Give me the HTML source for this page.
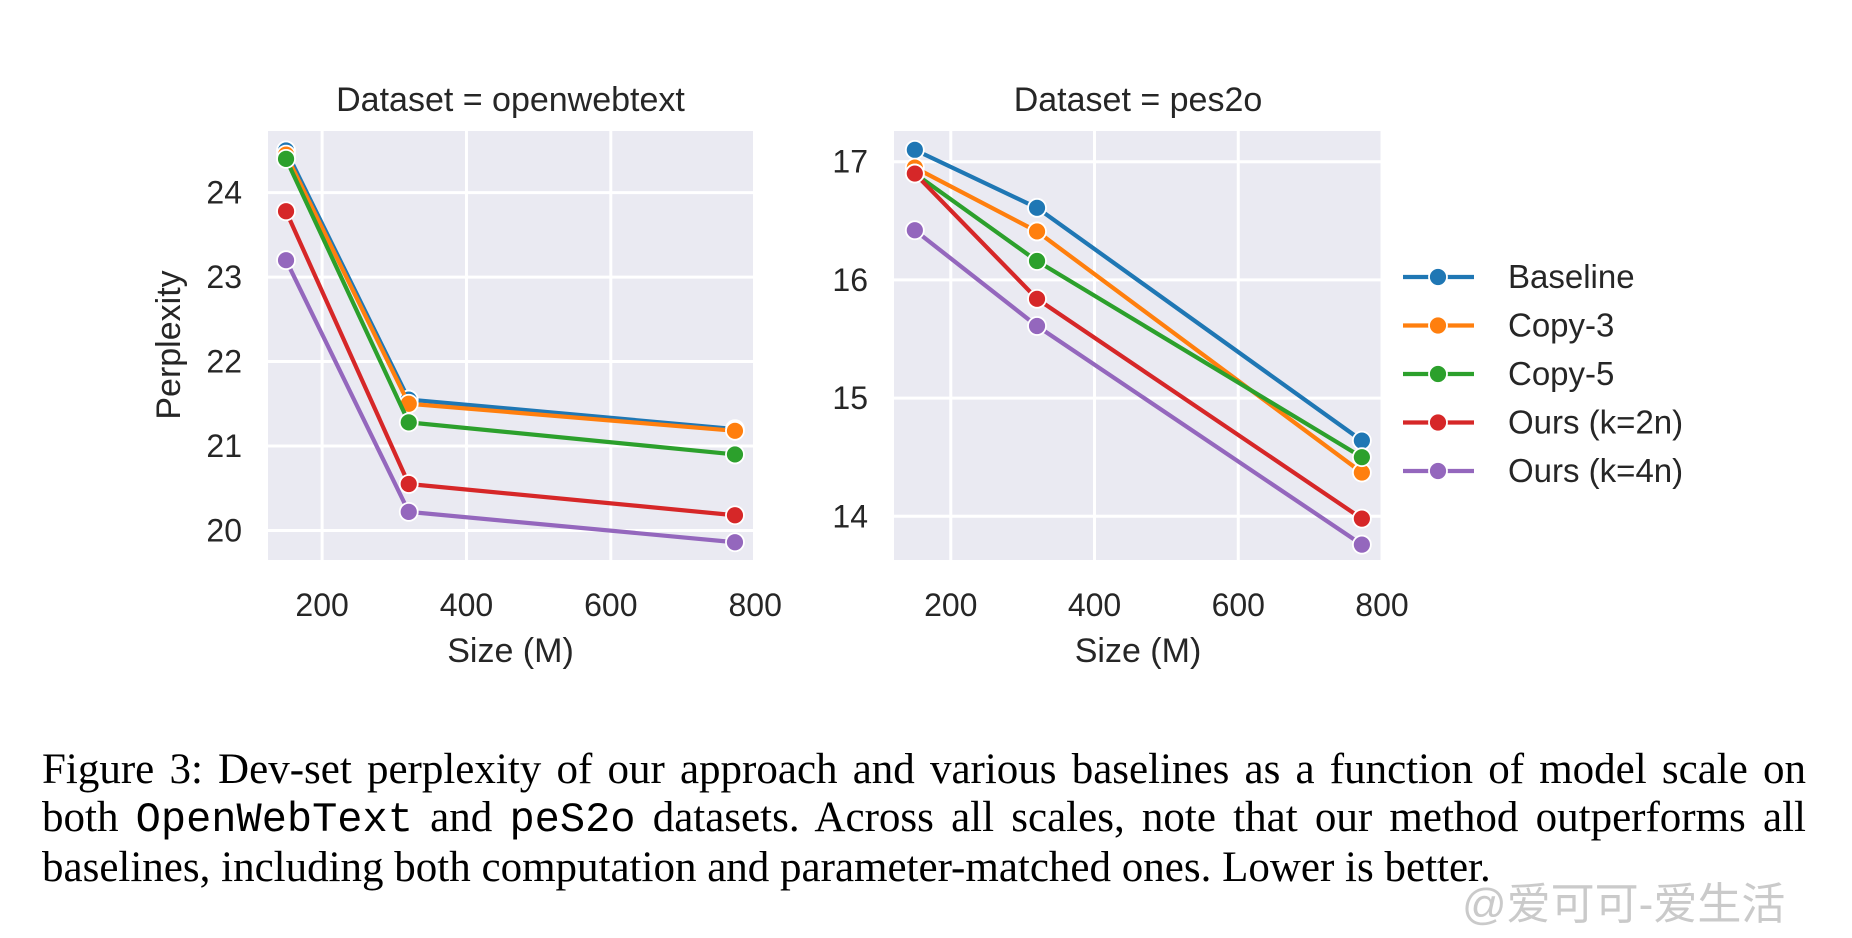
<!DOCTYPE html>
<html><head><meta charset="utf-8"><style>
body{margin:0;background:#fff;width:1852px;height:938px;overflow:hidden;position:relative}
svg{position:absolute;left:0;top:0}
.cap{position:absolute;left:42px;top:746px;width:1764px;font-family:"Liberation Serif",serif;font-size:43px;line-height:48px;color:#000}
.cap div{text-align:justify;text-align-last:justify;white-space:nowrap}
.cap div.last{text-align-last:left}
.cap code{font-family:"Liberation Mono",monospace;font-size:42px}
.wm{position:absolute;left:1462px;top:868px;font-family:"Liberation Sans","Noto Sans CJK SC",sans-serif;font-size:44px;color:rgba(150,150,150,0.5)}
</style></head><body>
<svg id="chart" width="1852" height="938" font-family="Liberation Sans, sans-serif"></svg>
<div class="cap">
<div>Figure 3: Dev-set perplexity of our approach and various baselines as a function of model scale on</div>
<div>both <code>OpenWebText</code> and <code>peS2o</code> datasets. Across all scales, note that our method outperforms all</div>
<div class="last">baselines, including both computation and parameter-matched ones. Lower is better.</div>
</div>
<div class="wm">@爱可可-爱生活</div>
<script>
const sizes=[150,320,772];
const seriesNames=["Baseline","Copy-3","Copy-5","Ours (k=2n)","Ours (k=4n)"];
const colors=["#1f77b4","#ff7f0e","#2ca02c","#d62728","#9467bd"];
const owtBaseline=[24.5,21.55,21.2];
const owtCopy3=[24.45,21.5,21.18];
const owtCopy5=[24.4,21.28,20.9];
const owtOurs2n=[23.78,20.55,20.18];
const owtOurs4n=[23.2,20.22,19.86];
const pesBaseline=[17.1,16.61,14.64];
const pesCopy3=[16.95,16.41,14.37];
const pesCopy5=[16.9,16.16,14.5];
const pesOurs2n=[16.9,15.84,13.98];
const pesOurs4n=[16.42,15.61,13.76];
const xTicks=[200,400,600,800];
const owtYTicks=[20,21,22,23,24];
const pesYTicks=[14,15,16,17];
const NS="http://www.w3.org/2000/svg";
const svg=document.getElementById('chart');
function mk(tag,attrs,parent){const e=document.createElementNS(NS,tag);for(const k in attrs)e.setAttribute(k,attrs[k]);(parent||svg).appendChild(e);return e;}
function panel(cfg){
  const g=mk('g',{});
  
  
  const xs=v=>cfg.x0+(v-cfg.xmin)/(cfg.xmax-cfg.xmin)*(cfg.x1-cfg.x0);
  const ys=v=>cfg.y1-(v-cfg.ymin)/(cfg.ymax-cfg.ymin)*(cfg.y1-cfg.y0);
  const bg=mk('rect',{x:cfg.x0,y:cfg.y0,width:cfg.x1-cfg.x0,height:cfg.y1-cfg.y0,fill:'#eaeaf2'},g);
  
  
  xTicks.forEach(t=>{const X=xs(t);
    if(X<=cfg.x1+3){const l=mk('line',{x1:X,x2:X,y1:cfg.y0,y2:cfg.y1,stroke:'#fff','stroke-width':3},g);
    }
    const t2=mk('text',{x:X,y:cfg.y1+56,'text-anchor':'middle','font-size':32,fill:'#262626'},g);t2.textContent=t;
    });
  cfg.yTicks.forEach(t=>{const Y=ys(t);
    const l=mk('line',{x1:cfg.x0,x2:cfg.x1,y1:Y,y2:Y,stroke:'#fff','stroke-width':3},g);
    
    const t2=mk('text',{x:cfg.x0-26,y:Y+11,'text-anchor':'end','font-size':32,fill:'#262626'},g);t2.textContent=t;
    });
  const ti=mk('text',{x:(cfg.x0+cfg.x1)/2,y:cfg.y0-20,'text-anchor':'middle','font-size':34,fill:'#262626'},g);ti.textContent=cfg.title;
  
  const xl=mk('text',{x:(cfg.x0+cfg.x1)/2,y:cfg.y1+102,'text-anchor':'middle','font-size':34,fill:'#262626'},g);xl.textContent='Size (M)';
  
  cfg.series.forEach((vals,i)=>{
    const pts=vals.map((v,j)=>xs(sizes[j])+','+ys(v)).join(' ');
    const pl=mk('polyline',{points:pts,fill:'none',stroke:colors[i],'stroke-width':4.2},g);
    
    
    vals.forEach((v,j)=>{const c=mk('circle',{cx:xs(sizes[j]),cy:ys(v),r:9,fill:colors[i],stroke:'#fff','stroke-width':1.8},g);
      });
  });
}
panel({name:'openwebtext-panel',x0:268,x1:753,y0:131,y1:560,xmin:125,xmax:797,ymin:19.65,ymax:24.73,yTicks:owtYTicks,title:'Dataset = openwebtext',
  series:[owtBaseline,owtCopy3,owtCopy5,owtOurs2n,owtOurs4n]});
panel({name:'pes2o-panel',x0:894,x1:1382,y0:131,y1:560,xmin:121,xmax:800,ymin:13.63,ymax:17.26,yTicks:pesYTicks,title:'Dataset = pes2o',
  series:[pesBaseline,pesCopy3,pesCopy5,pesOurs2n,pesOurs4n]});
const yl=mk('text',{x:0,y:0,'text-anchor':'middle','font-size':34,fill:'#262626',transform:'translate(180,345) rotate(-90)'});
yl.textContent='Perplexity';

const lg=mk('g',{});

seriesNames.forEach((n,i)=>{const y=277+i*48.5;
  const e=mk('g',{},lg);
  
  mk('line',{x1:1403,x2:1474,y1:y,y2:y,stroke:colors[i],'stroke-width':4.2},e);
  mk('circle',{cx:1438,cy:y,r:9,fill:colors[i],stroke:'#fff','stroke-width':1.8},e);
  const t=mk('text',{x:1508,y:y+11,'font-size':33,fill:'#262626'},e);t.textContent=n;});
</script>
</body></html>
